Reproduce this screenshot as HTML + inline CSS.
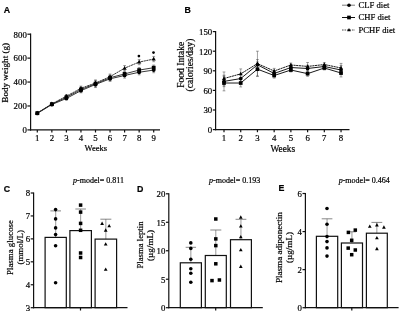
<!DOCTYPE html>
<html><head><meta charset="utf-8"><style>
html,body{margin:0;padding:0;background:#fff;width:400px;height:313px;overflow:hidden}
svg{display:block}
#w{width:400px;height:313px;will-change:transform}
</style></head><body>
<div id="w"><svg width="400" height="313" viewBox="0 0 400 313">
<rect width="400" height="313" fill="#fff"/>
<text x="6.90" y="10.00" font-size="8.8" text-anchor="middle" font-family='"Liberation Sans", sans-serif' font-weight="bold" dominant-baseline="central" stroke="#000" stroke-width="0.2">A</text>
<line x1="30.60" y1="33.60" x2="30.60" y2="130.50" stroke="#111" stroke-width="1.2"/>
<line x1="30.00" y1="129.90" x2="160.00" y2="129.90" stroke="#111" stroke-width="1.2"/>
<line x1="27.40" y1="129.90" x2="30.60" y2="129.90" stroke="#111" stroke-width="1.2"/>
<text x="26.80" y="130.20" font-size="8.8" text-anchor="end" font-family='"Liberation Serif", serif' font-weight="normal" dominant-baseline="central" stroke="#000" stroke-width="0.2">0</text>
<line x1="27.40" y1="105.98" x2="30.60" y2="105.98" stroke="#111" stroke-width="1.2"/>
<text x="26.80" y="106.28" font-size="8.8" text-anchor="end" font-family='"Liberation Serif", serif' font-weight="normal" dominant-baseline="central" stroke="#000" stroke-width="0.2">200</text>
<line x1="27.40" y1="82.05" x2="30.60" y2="82.05" stroke="#111" stroke-width="1.2"/>
<text x="26.80" y="82.35" font-size="8.8" text-anchor="end" font-family='"Liberation Serif", serif' font-weight="normal" dominant-baseline="central" stroke="#000" stroke-width="0.2">400</text>
<line x1="27.40" y1="58.12" x2="30.60" y2="58.12" stroke="#111" stroke-width="1.2"/>
<text x="26.80" y="58.42" font-size="8.8" text-anchor="end" font-family='"Liberation Serif", serif' font-weight="normal" dominant-baseline="central" stroke="#000" stroke-width="0.2">600</text>
<line x1="27.40" y1="34.20" x2="30.60" y2="34.20" stroke="#111" stroke-width="1.2"/>
<text x="26.80" y="34.50" font-size="8.8" text-anchor="end" font-family='"Liberation Serif", serif' font-weight="normal" dominant-baseline="central" stroke="#000" stroke-width="0.2">800</text>
<line x1="37.30" y1="129.90" x2="37.30" y2="132.50" stroke="#111" stroke-width="1.2"/>
<text x="37.30" y="138.40" font-size="8.8" text-anchor="middle" font-family='"Liberation Serif", serif' font-weight="normal" dominant-baseline="central" stroke="#000" stroke-width="0.2">1</text>
<line x1="51.85" y1="129.90" x2="51.85" y2="132.50" stroke="#111" stroke-width="1.2"/>
<text x="51.85" y="138.40" font-size="8.8" text-anchor="middle" font-family='"Liberation Serif", serif' font-weight="normal" dominant-baseline="central" stroke="#000" stroke-width="0.2">2</text>
<line x1="66.40" y1="129.90" x2="66.40" y2="132.50" stroke="#111" stroke-width="1.2"/>
<text x="66.40" y="138.40" font-size="8.8" text-anchor="middle" font-family='"Liberation Serif", serif' font-weight="normal" dominant-baseline="central" stroke="#000" stroke-width="0.2">3</text>
<line x1="80.95" y1="129.90" x2="80.95" y2="132.50" stroke="#111" stroke-width="1.2"/>
<text x="80.95" y="138.40" font-size="8.8" text-anchor="middle" font-family='"Liberation Serif", serif' font-weight="normal" dominant-baseline="central" stroke="#000" stroke-width="0.2">4</text>
<line x1="95.50" y1="129.90" x2="95.50" y2="132.50" stroke="#111" stroke-width="1.2"/>
<text x="95.50" y="138.40" font-size="8.8" text-anchor="middle" font-family='"Liberation Serif", serif' font-weight="normal" dominant-baseline="central" stroke="#000" stroke-width="0.2">5</text>
<line x1="110.05" y1="129.90" x2="110.05" y2="132.50" stroke="#111" stroke-width="1.2"/>
<text x="110.05" y="138.40" font-size="8.8" text-anchor="middle" font-family='"Liberation Serif", serif' font-weight="normal" dominant-baseline="central" stroke="#000" stroke-width="0.2">6</text>
<line x1="124.60" y1="129.90" x2="124.60" y2="132.50" stroke="#111" stroke-width="1.2"/>
<text x="124.60" y="138.40" font-size="8.8" text-anchor="middle" font-family='"Liberation Serif", serif' font-weight="normal" dominant-baseline="central" stroke="#000" stroke-width="0.2">7</text>
<line x1="139.15" y1="129.90" x2="139.15" y2="132.50" stroke="#111" stroke-width="1.2"/>
<text x="139.15" y="138.40" font-size="8.8" text-anchor="middle" font-family='"Liberation Serif", serif' font-weight="normal" dominant-baseline="central" stroke="#000" stroke-width="0.2">8</text>
<line x1="153.70" y1="129.90" x2="153.70" y2="132.50" stroke="#111" stroke-width="1.2"/>
<text x="153.70" y="138.40" font-size="8.8" text-anchor="middle" font-family='"Liberation Serif", serif' font-weight="normal" dominant-baseline="central" stroke="#000" stroke-width="0.2">9</text>
<text x="95.80" y="148.20" font-size="8.5" text-anchor="middle" font-family='"Liberation Serif", serif' font-weight="normal" dominant-baseline="central" stroke="#000" stroke-width="0.2">Weeks</text>
<text x="5.20" y="72.80" font-size="9.15" text-anchor="middle" font-family='"Liberation Serif", serif' font-weight="normal" transform="rotate(-90 5.20 72.80)" dominant-baseline="central" stroke="#000" stroke-width="0.2">Body weight (g)</text>
<polyline points="37.30,113.39 51.85,104.54 66.40,98.44 80.95,90.66 95.50,84.44 110.05,78.82 124.60,75.47 139.15,72.24 153.70,70.09" fill="none" stroke="#222" stroke-width="0.9"/>
<polyline points="37.30,113.15 51.85,104.18 66.40,97.24 80.95,89.47 95.50,83.72 110.05,77.74 124.60,73.92 139.15,70.09 153.70,67.70" fill="none" stroke="#222" stroke-width="0.9"/>
<polyline points="37.30,113.03 51.85,103.82 66.40,96.17 80.95,88.27 95.50,83.01 110.05,76.67 124.60,68.17 139.15,62.07 153.70,59.08" fill="none" stroke="#222" stroke-width="0.9" stroke-dasharray="2.2,0.5"/>
<line x1="37.30" y1="114.35" x2="37.30" y2="112.43" stroke="#444" stroke-width="0.5"/>
<line x1="35.90" y1="112.43" x2="38.70" y2="112.43" stroke="#444" stroke-width="0.5"/>
<line x1="35.90" y1="114.35" x2="38.70" y2="114.35" stroke="#444" stroke-width="0.5"/>
<line x1="51.85" y1="105.74" x2="51.85" y2="103.34" stroke="#444" stroke-width="0.5"/>
<line x1="50.45" y1="103.34" x2="53.25" y2="103.34" stroke="#444" stroke-width="0.5"/>
<line x1="50.45" y1="105.74" x2="53.25" y2="105.74" stroke="#444" stroke-width="0.5"/>
<line x1="66.40" y1="100.11" x2="66.40" y2="96.76" stroke="#444" stroke-width="0.5"/>
<line x1="65.00" y1="96.76" x2="67.80" y2="96.76" stroke="#444" stroke-width="0.5"/>
<line x1="65.00" y1="100.11" x2="67.80" y2="100.11" stroke="#444" stroke-width="0.5"/>
<line x1="80.95" y1="92.82" x2="80.95" y2="88.51" stroke="#444" stroke-width="0.5"/>
<line x1="79.55" y1="88.51" x2="82.35" y2="88.51" stroke="#444" stroke-width="0.5"/>
<line x1="79.55" y1="92.82" x2="82.35" y2="92.82" stroke="#444" stroke-width="0.5"/>
<line x1="95.50" y1="87.55" x2="95.50" y2="81.33" stroke="#444" stroke-width="0.5"/>
<line x1="94.10" y1="81.33" x2="96.90" y2="81.33" stroke="#444" stroke-width="0.5"/>
<line x1="94.10" y1="87.55" x2="96.90" y2="87.55" stroke="#444" stroke-width="0.5"/>
<line x1="110.05" y1="81.45" x2="110.05" y2="76.19" stroke="#444" stroke-width="0.5"/>
<line x1="108.65" y1="76.19" x2="111.45" y2="76.19" stroke="#444" stroke-width="0.5"/>
<line x1="108.65" y1="81.45" x2="111.45" y2="81.45" stroke="#444" stroke-width="0.5"/>
<line x1="124.60" y1="78.10" x2="124.60" y2="72.84" stroke="#444" stroke-width="0.5"/>
<line x1="123.20" y1="72.84" x2="126.00" y2="72.84" stroke="#444" stroke-width="0.5"/>
<line x1="123.20" y1="78.10" x2="126.00" y2="78.10" stroke="#444" stroke-width="0.5"/>
<line x1="139.15" y1="74.87" x2="139.15" y2="69.61" stroke="#444" stroke-width="0.5"/>
<line x1="137.75" y1="69.61" x2="140.55" y2="69.61" stroke="#444" stroke-width="0.5"/>
<line x1="137.75" y1="74.87" x2="140.55" y2="74.87" stroke="#444" stroke-width="0.5"/>
<line x1="153.70" y1="72.72" x2="153.70" y2="67.46" stroke="#444" stroke-width="0.5"/>
<line x1="152.30" y1="67.46" x2="155.10" y2="67.46" stroke="#444" stroke-width="0.5"/>
<line x1="152.30" y1="72.72" x2="155.10" y2="72.72" stroke="#444" stroke-width="0.5"/>
<line x1="37.30" y1="114.11" x2="37.30" y2="112.20" stroke="#444" stroke-width="0.5"/>
<line x1="35.90" y1="112.20" x2="38.70" y2="112.20" stroke="#444" stroke-width="0.5"/>
<line x1="35.90" y1="114.11" x2="38.70" y2="114.11" stroke="#444" stroke-width="0.5"/>
<line x1="51.85" y1="105.38" x2="51.85" y2="102.98" stroke="#444" stroke-width="0.5"/>
<line x1="50.45" y1="102.98" x2="53.25" y2="102.98" stroke="#444" stroke-width="0.5"/>
<line x1="50.45" y1="105.38" x2="53.25" y2="105.38" stroke="#444" stroke-width="0.5"/>
<line x1="66.40" y1="98.92" x2="66.40" y2="95.57" stroke="#444" stroke-width="0.5"/>
<line x1="65.00" y1="95.57" x2="67.80" y2="95.57" stroke="#444" stroke-width="0.5"/>
<line x1="65.00" y1="98.92" x2="67.80" y2="98.92" stroke="#444" stroke-width="0.5"/>
<line x1="80.95" y1="91.62" x2="80.95" y2="87.31" stroke="#444" stroke-width="0.5"/>
<line x1="79.55" y1="87.31" x2="82.35" y2="87.31" stroke="#444" stroke-width="0.5"/>
<line x1="79.55" y1="91.62" x2="82.35" y2="91.62" stroke="#444" stroke-width="0.5"/>
<line x1="95.50" y1="86.84" x2="95.50" y2="80.61" stroke="#444" stroke-width="0.5"/>
<line x1="94.10" y1="80.61" x2="96.90" y2="80.61" stroke="#444" stroke-width="0.5"/>
<line x1="94.10" y1="86.84" x2="96.90" y2="86.84" stroke="#444" stroke-width="0.5"/>
<line x1="110.05" y1="80.38" x2="110.05" y2="75.11" stroke="#444" stroke-width="0.5"/>
<line x1="108.65" y1="75.11" x2="111.45" y2="75.11" stroke="#444" stroke-width="0.5"/>
<line x1="108.65" y1="80.38" x2="111.45" y2="80.38" stroke="#444" stroke-width="0.5"/>
<line x1="124.60" y1="76.55" x2="124.60" y2="71.28" stroke="#444" stroke-width="0.5"/>
<line x1="123.20" y1="71.28" x2="126.00" y2="71.28" stroke="#444" stroke-width="0.5"/>
<line x1="123.20" y1="76.55" x2="126.00" y2="76.55" stroke="#444" stroke-width="0.5"/>
<line x1="139.15" y1="72.72" x2="139.15" y2="67.46" stroke="#444" stroke-width="0.5"/>
<line x1="137.75" y1="67.46" x2="140.55" y2="67.46" stroke="#444" stroke-width="0.5"/>
<line x1="137.75" y1="72.72" x2="140.55" y2="72.72" stroke="#444" stroke-width="0.5"/>
<line x1="153.70" y1="70.33" x2="153.70" y2="65.06" stroke="#444" stroke-width="0.5"/>
<line x1="152.30" y1="65.06" x2="155.10" y2="65.06" stroke="#444" stroke-width="0.5"/>
<line x1="152.30" y1="70.33" x2="155.10" y2="70.33" stroke="#444" stroke-width="0.5"/>
<line x1="37.30" y1="113.99" x2="37.30" y2="112.08" stroke="#444" stroke-width="0.5"/>
<line x1="35.90" y1="112.08" x2="38.70" y2="112.08" stroke="#444" stroke-width="0.5"/>
<line x1="35.90" y1="113.99" x2="38.70" y2="113.99" stroke="#444" stroke-width="0.5"/>
<line x1="51.85" y1="105.02" x2="51.85" y2="102.63" stroke="#444" stroke-width="0.5"/>
<line x1="50.45" y1="102.63" x2="53.25" y2="102.63" stroke="#444" stroke-width="0.5"/>
<line x1="50.45" y1="105.02" x2="53.25" y2="105.02" stroke="#444" stroke-width="0.5"/>
<line x1="66.40" y1="97.84" x2="66.40" y2="94.49" stroke="#444" stroke-width="0.5"/>
<line x1="65.00" y1="94.49" x2="67.80" y2="94.49" stroke="#444" stroke-width="0.5"/>
<line x1="65.00" y1="97.84" x2="67.80" y2="97.84" stroke="#444" stroke-width="0.5"/>
<line x1="80.95" y1="90.42" x2="80.95" y2="86.12" stroke="#444" stroke-width="0.5"/>
<line x1="79.55" y1="86.12" x2="82.35" y2="86.12" stroke="#444" stroke-width="0.5"/>
<line x1="79.55" y1="90.42" x2="82.35" y2="90.42" stroke="#444" stroke-width="0.5"/>
<line x1="95.50" y1="86.12" x2="95.50" y2="79.90" stroke="#444" stroke-width="0.5"/>
<line x1="94.10" y1="79.90" x2="96.90" y2="79.90" stroke="#444" stroke-width="0.5"/>
<line x1="94.10" y1="86.12" x2="96.90" y2="86.12" stroke="#444" stroke-width="0.5"/>
<line x1="110.05" y1="79.30" x2="110.05" y2="74.04" stroke="#444" stroke-width="0.5"/>
<line x1="108.65" y1="74.04" x2="111.45" y2="74.04" stroke="#444" stroke-width="0.5"/>
<line x1="108.65" y1="79.30" x2="111.45" y2="79.30" stroke="#444" stroke-width="0.5"/>
<line x1="124.60" y1="70.81" x2="124.60" y2="65.54" stroke="#444" stroke-width="0.5"/>
<line x1="123.20" y1="65.54" x2="126.00" y2="65.54" stroke="#444" stroke-width="0.5"/>
<line x1="123.20" y1="70.81" x2="126.00" y2="70.81" stroke="#444" stroke-width="0.5"/>
<line x1="139.15" y1="64.70" x2="139.15" y2="59.44" stroke="#444" stroke-width="0.5"/>
<line x1="137.75" y1="59.44" x2="140.55" y2="59.44" stroke="#444" stroke-width="0.5"/>
<line x1="137.75" y1="64.70" x2="140.55" y2="64.70" stroke="#444" stroke-width="0.5"/>
<line x1="153.70" y1="61.71" x2="153.70" y2="56.45" stroke="#444" stroke-width="0.5"/>
<line x1="152.30" y1="56.45" x2="155.10" y2="56.45" stroke="#444" stroke-width="0.5"/>
<line x1="152.30" y1="61.71" x2="155.10" y2="61.71" stroke="#444" stroke-width="0.5"/>
<circle cx="37.30" cy="113.39" r="1.9" fill="#000"/>
<circle cx="51.85" cy="104.54" r="1.9" fill="#000"/>
<circle cx="66.40" cy="98.44" r="1.9" fill="#000"/>
<circle cx="80.95" cy="90.66" r="1.9" fill="#000"/>
<circle cx="95.50" cy="84.44" r="1.9" fill="#000"/>
<circle cx="110.05" cy="78.82" r="1.9" fill="#000"/>
<circle cx="124.60" cy="75.47" r="1.9" fill="#000"/>
<circle cx="139.15" cy="72.24" r="1.9" fill="#000"/>
<circle cx="153.70" cy="70.09" r="1.9" fill="#000"/>
<rect x="35.40" y="111.25" width="3.8" height="3.8" fill="#000"/>
<rect x="49.95" y="102.28" width="3.8" height="3.8" fill="#000"/>
<rect x="64.50" y="95.34" width="3.8" height="3.8" fill="#000"/>
<rect x="79.05" y="87.57" width="3.8" height="3.8" fill="#000"/>
<rect x="93.60" y="81.82" width="3.8" height="3.8" fill="#000"/>
<rect x="108.15" y="75.84" width="3.8" height="3.8" fill="#000"/>
<rect x="122.70" y="72.02" width="3.8" height="3.8" fill="#000"/>
<rect x="137.25" y="68.19" width="3.8" height="3.8" fill="#000"/>
<rect x="151.80" y="65.80" width="3.8" height="3.8" fill="#000"/>
<polygon points="37.30,110.76 35.20,114.54 39.40,114.54" fill="#000"/>
<polygon points="51.85,101.55 49.75,105.33 53.95,105.33" fill="#000"/>
<polygon points="66.40,93.90 64.30,97.68 68.50,97.68" fill="#000"/>
<polygon points="80.95,86.00 78.85,89.78 83.05,89.78" fill="#000"/>
<polygon points="95.50,80.74 93.40,84.52 97.60,84.52" fill="#000"/>
<polygon points="110.05,74.40 107.95,78.18 112.15,78.18" fill="#000"/>
<polygon points="124.60,65.91 122.50,69.69 126.70,69.69" fill="#000"/>
<polygon points="139.15,59.80 137.05,63.58 141.25,63.58" fill="#000"/>
<polygon points="153.70,56.81 151.60,60.59 155.80,60.59" fill="#000"/>
<circle cx="138.90" cy="56.10" r="1.35" fill="#000"/>
<circle cx="153.50" cy="52.60" r="1.35" fill="#000"/>
<text x="187.60" y="9.60" font-size="8.8" text-anchor="middle" font-family='"Liberation Sans", sans-serif' font-weight="bold" dominant-baseline="central" stroke="#000" stroke-width="0.2">B</text>
<line x1="215.60" y1="31.00" x2="215.60" y2="130.20" stroke="#111" stroke-width="1.2"/>
<line x1="215.00" y1="129.60" x2="349.50" y2="129.60" stroke="#111" stroke-width="1.2"/>
<line x1="212.80" y1="129.60" x2="215.60" y2="129.60" stroke="#111" stroke-width="1.2"/>
<text x="212.20" y="129.90" font-size="8.8" text-anchor="end" font-family='"Liberation Serif", serif' font-weight="normal" dominant-baseline="central" stroke="#000" stroke-width="0.2">0</text>
<line x1="212.80" y1="110.00" x2="215.60" y2="110.00" stroke="#111" stroke-width="1.2"/>
<text x="212.20" y="110.30" font-size="8.8" text-anchor="end" font-family='"Liberation Serif", serif' font-weight="normal" dominant-baseline="central" stroke="#000" stroke-width="0.2">30</text>
<line x1="212.80" y1="90.40" x2="215.60" y2="90.40" stroke="#111" stroke-width="1.2"/>
<text x="212.20" y="90.70" font-size="8.8" text-anchor="end" font-family='"Liberation Serif", serif' font-weight="normal" dominant-baseline="central" stroke="#000" stroke-width="0.2">60</text>
<line x1="212.80" y1="70.80" x2="215.60" y2="70.80" stroke="#111" stroke-width="1.2"/>
<text x="212.20" y="71.10" font-size="8.8" text-anchor="end" font-family='"Liberation Serif", serif' font-weight="normal" dominant-baseline="central" stroke="#000" stroke-width="0.2">90</text>
<line x1="212.80" y1="51.20" x2="215.60" y2="51.20" stroke="#111" stroke-width="1.2"/>
<text x="212.20" y="51.50" font-size="8.8" text-anchor="end" font-family='"Liberation Serif", serif' font-weight="normal" dominant-baseline="central" stroke="#000" stroke-width="0.2">120</text>
<line x1="212.80" y1="31.60" x2="215.60" y2="31.60" stroke="#111" stroke-width="1.2"/>
<text x="212.20" y="31.90" font-size="8.8" text-anchor="end" font-family='"Liberation Serif", serif' font-weight="normal" dominant-baseline="central" stroke="#000" stroke-width="0.2">150</text>
<line x1="224.00" y1="129.60" x2="224.00" y2="132.20" stroke="#111" stroke-width="1.2"/>
<text x="224.00" y="138.00" font-size="8.8" text-anchor="middle" font-family='"Liberation Serif", serif' font-weight="normal" dominant-baseline="central" stroke="#000" stroke-width="0.2">1</text>
<line x1="240.72" y1="129.60" x2="240.72" y2="132.20" stroke="#111" stroke-width="1.2"/>
<text x="240.72" y="138.00" font-size="8.8" text-anchor="middle" font-family='"Liberation Serif", serif' font-weight="normal" dominant-baseline="central" stroke="#000" stroke-width="0.2">2</text>
<line x1="257.44" y1="129.60" x2="257.44" y2="132.20" stroke="#111" stroke-width="1.2"/>
<text x="257.44" y="138.00" font-size="8.8" text-anchor="middle" font-family='"Liberation Serif", serif' font-weight="normal" dominant-baseline="central" stroke="#000" stroke-width="0.2">3</text>
<line x1="274.16" y1="129.60" x2="274.16" y2="132.20" stroke="#111" stroke-width="1.2"/>
<text x="274.16" y="138.00" font-size="8.8" text-anchor="middle" font-family='"Liberation Serif", serif' font-weight="normal" dominant-baseline="central" stroke="#000" stroke-width="0.2">4</text>
<line x1="290.88" y1="129.60" x2="290.88" y2="132.20" stroke="#111" stroke-width="1.2"/>
<text x="290.88" y="138.00" font-size="8.8" text-anchor="middle" font-family='"Liberation Serif", serif' font-weight="normal" dominant-baseline="central" stroke="#000" stroke-width="0.2">5</text>
<line x1="307.60" y1="129.60" x2="307.60" y2="132.20" stroke="#111" stroke-width="1.2"/>
<text x="307.60" y="138.00" font-size="8.8" text-anchor="middle" font-family='"Liberation Serif", serif' font-weight="normal" dominant-baseline="central" stroke="#000" stroke-width="0.2">6</text>
<line x1="324.32" y1="129.60" x2="324.32" y2="132.20" stroke="#111" stroke-width="1.2"/>
<text x="324.32" y="138.00" font-size="8.8" text-anchor="middle" font-family='"Liberation Serif", serif' font-weight="normal" dominant-baseline="central" stroke="#000" stroke-width="0.2">7</text>
<line x1="341.04" y1="129.60" x2="341.04" y2="132.20" stroke="#111" stroke-width="1.2"/>
<text x="341.04" y="138.00" font-size="8.8" text-anchor="middle" font-family='"Liberation Serif", serif' font-weight="normal" dominant-baseline="central" stroke="#000" stroke-width="0.2">8</text>
<text x="282.80" y="148.70" font-size="9.3" text-anchor="middle" font-family='"Liberation Serif", serif' font-weight="normal" dominant-baseline="central" stroke="#000" stroke-width="0.2">Weeks</text>
<text x="181.00" y="64.80" font-size="9.6" text-anchor="middle" font-family='"Liberation Serif", serif' font-weight="normal" transform="rotate(-90 181.00 64.80)" dominant-baseline="central" stroke="#000" stroke-width="0.2">Food Intake</text>
<text x="189.80" y="65.00" font-size="9.6" text-anchor="middle" font-family='"Liberation Serif", serif' font-weight="normal" transform="rotate(-90 189.80 65.00)" dominant-baseline="central" stroke="#000" stroke-width="0.2">(calories/day)</text>
<polyline points="224.00,81.38 240.72,78.57 257.44,64.79 274.16,73.48 290.88,67.53 307.60,68.51 324.32,66.49 341.04,70.02" fill="none" stroke="#000" stroke-width="0.9"/>
<polyline points="224.00,83.02 240.72,83.02 257.44,69.17 274.16,75.50 290.88,70.02 307.60,73.67 324.32,67.99 341.04,73.02" fill="none" stroke="#000" stroke-width="0.9"/>
<polyline points="224.00,78.51 240.72,73.87 257.44,63.61 274.16,71.00 290.88,64.99 307.60,66.42 324.32,64.53 341.04,67.99" fill="none" stroke="#000" stroke-width="0.9" stroke-dasharray="2.2,0.5"/>
<line x1="224.00" y1="86.61" x2="224.00" y2="76.16" stroke="#444" stroke-width="0.5"/>
<line x1="222.60" y1="76.16" x2="225.40" y2="76.16" stroke="#444" stroke-width="0.5"/>
<line x1="222.60" y1="86.61" x2="225.40" y2="86.61" stroke="#444" stroke-width="0.5"/>
<line x1="240.72" y1="82.49" x2="240.72" y2="74.65" stroke="#444" stroke-width="0.5"/>
<line x1="239.32" y1="74.65" x2="242.12" y2="74.65" stroke="#444" stroke-width="0.5"/>
<line x1="239.32" y1="82.49" x2="242.12" y2="82.49" stroke="#444" stroke-width="0.5"/>
<line x1="257.44" y1="70.02" x2="257.44" y2="59.56" stroke="#444" stroke-width="0.5"/>
<line x1="256.04" y1="59.56" x2="258.84" y2="59.56" stroke="#444" stroke-width="0.5"/>
<line x1="256.04" y1="70.02" x2="258.84" y2="70.02" stroke="#444" stroke-width="0.5"/>
<line x1="274.16" y1="76.09" x2="274.16" y2="70.87" stroke="#444" stroke-width="0.5"/>
<line x1="272.76" y1="70.87" x2="275.56" y2="70.87" stroke="#444" stroke-width="0.5"/>
<line x1="272.76" y1="76.09" x2="275.56" y2="76.09" stroke="#444" stroke-width="0.5"/>
<line x1="290.88" y1="69.49" x2="290.88" y2="65.57" stroke="#444" stroke-width="0.5"/>
<line x1="289.48" y1="65.57" x2="292.28" y2="65.57" stroke="#444" stroke-width="0.5"/>
<line x1="289.48" y1="69.49" x2="292.28" y2="69.49" stroke="#444" stroke-width="0.5"/>
<line x1="307.60" y1="71.78" x2="307.60" y2="65.25" stroke="#444" stroke-width="0.5"/>
<line x1="306.20" y1="65.25" x2="309.00" y2="65.25" stroke="#444" stroke-width="0.5"/>
<line x1="306.20" y1="71.78" x2="309.00" y2="71.78" stroke="#444" stroke-width="0.5"/>
<line x1="324.32" y1="68.45" x2="324.32" y2="64.53" stroke="#444" stroke-width="0.5"/>
<line x1="322.92" y1="64.53" x2="325.72" y2="64.53" stroke="#444" stroke-width="0.5"/>
<line x1="322.92" y1="68.45" x2="325.72" y2="68.45" stroke="#444" stroke-width="0.5"/>
<line x1="341.04" y1="74.59" x2="341.04" y2="65.44" stroke="#444" stroke-width="0.5"/>
<line x1="339.64" y1="65.44" x2="342.44" y2="65.44" stroke="#444" stroke-width="0.5"/>
<line x1="339.64" y1="74.59" x2="342.44" y2="74.59" stroke="#444" stroke-width="0.5"/>
<line x1="224.00" y1="90.86" x2="224.00" y2="75.18" stroke="#444" stroke-width="0.5"/>
<line x1="222.60" y1="75.18" x2="225.40" y2="75.18" stroke="#444" stroke-width="0.5"/>
<line x1="222.60" y1="90.86" x2="225.40" y2="90.86" stroke="#444" stroke-width="0.5"/>
<line x1="240.72" y1="86.94" x2="240.72" y2="79.10" stroke="#444" stroke-width="0.5"/>
<line x1="239.32" y1="79.10" x2="242.12" y2="79.10" stroke="#444" stroke-width="0.5"/>
<line x1="239.32" y1="86.94" x2="242.12" y2="86.94" stroke="#444" stroke-width="0.5"/>
<line x1="257.44" y1="76.35" x2="257.44" y2="61.98" stroke="#444" stroke-width="0.5"/>
<line x1="256.04" y1="61.98" x2="258.84" y2="61.98" stroke="#444" stroke-width="0.5"/>
<line x1="256.04" y1="76.35" x2="258.84" y2="76.35" stroke="#444" stroke-width="0.5"/>
<line x1="274.16" y1="78.12" x2="274.16" y2="72.89" stroke="#444" stroke-width="0.5"/>
<line x1="272.76" y1="72.89" x2="275.56" y2="72.89" stroke="#444" stroke-width="0.5"/>
<line x1="272.76" y1="78.12" x2="275.56" y2="78.12" stroke="#444" stroke-width="0.5"/>
<line x1="290.88" y1="71.98" x2="290.88" y2="68.06" stroke="#444" stroke-width="0.5"/>
<line x1="289.48" y1="68.06" x2="292.28" y2="68.06" stroke="#444" stroke-width="0.5"/>
<line x1="289.48" y1="71.98" x2="292.28" y2="71.98" stroke="#444" stroke-width="0.5"/>
<line x1="307.60" y1="76.29" x2="307.60" y2="71.06" stroke="#444" stroke-width="0.5"/>
<line x1="306.20" y1="71.06" x2="309.00" y2="71.06" stroke="#444" stroke-width="0.5"/>
<line x1="306.20" y1="76.29" x2="309.00" y2="76.29" stroke="#444" stroke-width="0.5"/>
<line x1="324.32" y1="69.95" x2="324.32" y2="66.03" stroke="#444" stroke-width="0.5"/>
<line x1="322.92" y1="66.03" x2="325.72" y2="66.03" stroke="#444" stroke-width="0.5"/>
<line x1="322.92" y1="69.95" x2="325.72" y2="69.95" stroke="#444" stroke-width="0.5"/>
<line x1="341.04" y1="76.94" x2="341.04" y2="69.10" stroke="#444" stroke-width="0.5"/>
<line x1="339.64" y1="69.10" x2="342.44" y2="69.10" stroke="#444" stroke-width="0.5"/>
<line x1="339.64" y1="76.94" x2="342.44" y2="76.94" stroke="#444" stroke-width="0.5"/>
<line x1="224.00" y1="85.04" x2="224.00" y2="71.98" stroke="#444" stroke-width="0.5"/>
<line x1="222.60" y1="71.98" x2="225.40" y2="71.98" stroke="#444" stroke-width="0.5"/>
<line x1="222.60" y1="85.04" x2="225.40" y2="85.04" stroke="#444" stroke-width="0.5"/>
<line x1="240.72" y1="78.84" x2="240.72" y2="68.91" stroke="#444" stroke-width="0.5"/>
<line x1="239.32" y1="68.91" x2="242.12" y2="68.91" stroke="#444" stroke-width="0.5"/>
<line x1="239.32" y1="78.84" x2="242.12" y2="78.84" stroke="#444" stroke-width="0.5"/>
<line x1="257.44" y1="76.03" x2="257.44" y2="51.20" stroke="#444" stroke-width="0.5"/>
<line x1="256.04" y1="51.20" x2="258.84" y2="51.20" stroke="#444" stroke-width="0.5"/>
<line x1="256.04" y1="76.03" x2="258.84" y2="76.03" stroke="#444" stroke-width="0.5"/>
<line x1="274.16" y1="73.61" x2="274.16" y2="68.38" stroke="#444" stroke-width="0.5"/>
<line x1="272.76" y1="68.38" x2="275.56" y2="68.38" stroke="#444" stroke-width="0.5"/>
<line x1="272.76" y1="73.61" x2="275.56" y2="73.61" stroke="#444" stroke-width="0.5"/>
<line x1="290.88" y1="66.95" x2="290.88" y2="63.03" stroke="#444" stroke-width="0.5"/>
<line x1="289.48" y1="63.03" x2="292.28" y2="63.03" stroke="#444" stroke-width="0.5"/>
<line x1="289.48" y1="66.95" x2="292.28" y2="66.95" stroke="#444" stroke-width="0.5"/>
<line x1="307.60" y1="70.34" x2="307.60" y2="62.50" stroke="#444" stroke-width="0.5"/>
<line x1="306.20" y1="62.50" x2="309.00" y2="62.50" stroke="#444" stroke-width="0.5"/>
<line x1="306.20" y1="70.34" x2="309.00" y2="70.34" stroke="#444" stroke-width="0.5"/>
<line x1="324.32" y1="66.49" x2="324.32" y2="62.57" stroke="#444" stroke-width="0.5"/>
<line x1="322.92" y1="62.57" x2="325.72" y2="62.57" stroke="#444" stroke-width="0.5"/>
<line x1="322.92" y1="66.49" x2="325.72" y2="66.49" stroke="#444" stroke-width="0.5"/>
<line x1="341.04" y1="72.56" x2="341.04" y2="63.42" stroke="#444" stroke-width="0.5"/>
<line x1="339.64" y1="63.42" x2="342.44" y2="63.42" stroke="#444" stroke-width="0.5"/>
<line x1="339.64" y1="72.56" x2="342.44" y2="72.56" stroke="#444" stroke-width="0.5"/>
<circle cx="224.00" cy="81.38" r="1.85" fill="#000"/>
<circle cx="240.72" cy="78.57" r="1.85" fill="#000"/>
<circle cx="257.44" cy="64.79" r="1.85" fill="#000"/>
<circle cx="274.16" cy="73.48" r="1.85" fill="#000"/>
<circle cx="290.88" cy="67.53" r="1.85" fill="#000"/>
<circle cx="307.60" cy="68.51" r="1.85" fill="#000"/>
<circle cx="324.32" cy="66.49" r="1.85" fill="#000"/>
<circle cx="341.04" cy="70.02" r="1.85" fill="#000"/>
<rect x="222.15" y="81.17" width="3.7" height="3.7" fill="#000"/>
<rect x="238.87" y="81.17" width="3.7" height="3.7" fill="#000"/>
<rect x="255.59" y="67.32" width="3.7" height="3.7" fill="#000"/>
<rect x="272.31" y="73.65" width="3.7" height="3.7" fill="#000"/>
<rect x="289.03" y="68.17" width="3.7" height="3.7" fill="#000"/>
<rect x="305.75" y="71.82" width="3.7" height="3.7" fill="#000"/>
<rect x="322.47" y="66.14" width="3.7" height="3.7" fill="#000"/>
<rect x="339.19" y="71.17" width="3.7" height="3.7" fill="#000"/>
<polygon points="224.00,76.35 222.00,79.95 226.00,79.95" fill="#000"/>
<polygon points="240.72,71.71 238.72,75.31 242.72,75.31" fill="#000"/>
<polygon points="257.44,61.45 255.44,65.05 259.44,65.05" fill="#000"/>
<polygon points="274.16,68.84 272.16,72.44 276.16,72.44" fill="#000"/>
<polygon points="290.88,62.83 288.88,66.43 292.88,66.43" fill="#000"/>
<polygon points="307.60,64.26 305.60,67.86 309.60,67.86" fill="#000"/>
<polygon points="324.32,62.37 322.32,65.97 326.32,65.97" fill="#000"/>
<polygon points="341.04,65.83 339.04,69.43 343.04,69.43" fill="#000"/>
<line x1="342.00" y1="5.20" x2="355.00" y2="5.20" stroke="#444" stroke-width="0.7"/>
<circle cx="349.00" cy="5.20" r="1.8" fill="#000"/>
<text x="358.60" y="5.40" font-size="8.6" text-anchor="start" font-family='"Liberation Serif", serif' font-weight="normal" dominant-baseline="central" stroke="#000" stroke-width="0.2">CLF diet</text>
<line x1="342.00" y1="17.50" x2="355.00" y2="17.50" stroke="#111" stroke-width="1.0"/>
<rect x="347.15" y="15.65" width="3.7" height="3.7" fill="#000"/>
<text x="358.60" y="17.40" font-size="8.6" text-anchor="start" font-family='"Liberation Serif", serif' font-weight="normal" dominant-baseline="central" stroke="#000" stroke-width="0.2">CHF diet</text>
<line x1="342.00" y1="30.00" x2="355.00" y2="30.00" stroke="#222" stroke-width="0.8" stroke-dasharray="1.6,0.9"/>
<polygon points="349.00,27.95 347.10,31.37 350.90,31.37" fill="#000"/>
<text x="358.60" y="29.90" font-size="8.6" text-anchor="start" font-family='"Liberation Serif", serif' font-weight="normal" dominant-baseline="central" stroke="#000" stroke-width="0.2">PCHF diet</text>
<text x="7.00" y="188.50" font-size="8.8" text-anchor="middle" font-family='"Liberation Sans", sans-serif' font-weight="bold" dominant-baseline="central" stroke="#000" stroke-width="0.2">C</text>
<text x="73" y="180.2" font-size="8" font-family='"Liberation Serif", serif' dominant-baseline="central" stroke="#000" stroke-width="0.2"><tspan font-style="italic">p</tspan>-model= 0.811</text>
<line x1="33.60" y1="192.40" x2="33.60" y2="308.30" stroke="#111" stroke-width="1.2"/>
<line x1="33.00" y1="307.70" x2="127.50" y2="307.70" stroke="#111" stroke-width="1.2"/>
<line x1="30.70" y1="307.70" x2="33.60" y2="307.70" stroke="#111" stroke-width="1.2"/>
<text x="30.20" y="308.00" font-size="8.8" text-anchor="end" font-family='"Liberation Serif", serif' font-weight="normal" dominant-baseline="central" stroke="#000" stroke-width="0.2">3</text>
<line x1="30.70" y1="284.76" x2="33.60" y2="284.76" stroke="#111" stroke-width="1.2"/>
<text x="30.20" y="285.06" font-size="8.8" text-anchor="end" font-family='"Liberation Serif", serif' font-weight="normal" dominant-baseline="central" stroke="#000" stroke-width="0.2">4</text>
<line x1="30.70" y1="261.82" x2="33.60" y2="261.82" stroke="#111" stroke-width="1.2"/>
<text x="30.20" y="262.12" font-size="8.8" text-anchor="end" font-family='"Liberation Serif", serif' font-weight="normal" dominant-baseline="central" stroke="#000" stroke-width="0.2">5</text>
<line x1="30.70" y1="238.88" x2="33.60" y2="238.88" stroke="#111" stroke-width="1.2"/>
<text x="30.20" y="239.18" font-size="8.8" text-anchor="end" font-family='"Liberation Serif", serif' font-weight="normal" dominant-baseline="central" stroke="#000" stroke-width="0.2">6</text>
<line x1="30.70" y1="215.94" x2="33.60" y2="215.94" stroke="#111" stroke-width="1.2"/>
<text x="30.20" y="216.24" font-size="8.8" text-anchor="end" font-family='"Liberation Serif", serif' font-weight="normal" dominant-baseline="central" stroke="#000" stroke-width="0.2">7</text>
<line x1="30.70" y1="193.00" x2="33.60" y2="193.00" stroke="#111" stroke-width="1.2"/>
<text x="30.20" y="193.30" font-size="8.8" text-anchor="end" font-family='"Liberation Serif", serif' font-weight="normal" dominant-baseline="central" stroke="#000" stroke-width="0.2">8</text>
<line x1="55.70" y1="237.40" x2="55.70" y2="210.90" stroke="#555" stroke-width="0.6"/>
<line x1="50.40" y1="210.90" x2="61.00" y2="210.90" stroke="#555" stroke-width="0.7"/>
<rect x="45.10" y="237.40" width="21.20" height="70.30" fill="none" stroke="#111" stroke-width="1.2"/>
<line x1="80.65" y1="230.60" x2="80.65" y2="209.00" stroke="#555" stroke-width="0.6"/>
<line x1="75.35" y1="209.00" x2="85.95" y2="209.00" stroke="#555" stroke-width="0.7"/>
<rect x="69.90" y="230.60" width="21.50" height="77.10" fill="none" stroke="#111" stroke-width="1.2"/>
<line x1="105.85" y1="239.10" x2="105.85" y2="219.20" stroke="#555" stroke-width="0.6"/>
<line x1="100.35" y1="219.20" x2="111.35" y2="219.20" stroke="#555" stroke-width="0.7"/>
<rect x="95.10" y="239.10" width="21.50" height="68.60" fill="none" stroke="#111" stroke-width="1.2"/>
<line x1="80.50" y1="307.70" x2="80.50" y2="310.50" stroke="#111" stroke-width="1.2"/>
<circle cx="55.60" cy="209.60" r="1.8" fill="#000"/>
<circle cx="55.60" cy="218.90" r="1.8" fill="#000"/>
<circle cx="55.60" cy="227.90" r="1.8" fill="#000"/>
<circle cx="55.60" cy="234.60" r="1.8" fill="#000"/>
<circle cx="55.60" cy="245.80" r="1.8" fill="#000"/>
<circle cx="55.60" cy="282.70" r="1.8" fill="#000"/>
<rect x="78.85" y="203.35" width="3.5" height="3.5" fill="#000"/>
<rect x="78.85" y="210.35" width="3.5" height="3.5" fill="#000"/>
<rect x="78.85" y="221.65" width="3.5" height="3.5" fill="#000"/>
<rect x="78.85" y="228.55" width="3.5" height="3.5" fill="#000"/>
<rect x="78.85" y="251.25" width="3.5" height="3.5" fill="#000"/>
<rect x="78.85" y="255.75" width="3.5" height="3.5" fill="#000"/>
<polygon points="102.10,221.56 100.25,224.96 103.95,224.96" fill="#000"/>
<polygon points="109.20,223.96 107.35,227.36 111.05,227.36" fill="#000"/>
<polygon points="105.70,228.36 103.85,231.76 107.55,231.76" fill="#000"/>
<polygon points="105.70,242.16 103.85,245.56 107.55,245.56" fill="#000"/>
<polygon points="105.70,267.46 103.85,270.86 107.55,270.86" fill="#000"/>
<text x="10.00" y="247.50" font-size="8.9" text-anchor="middle" font-family='"Liberation Serif", serif' font-weight="normal" transform="rotate(-90 10.00 247.50)" dominant-baseline="central" stroke="#000" stroke-width="0.2">Plasma glucose</text>
<text x="19.80" y="247.30" font-size="8.9" text-anchor="middle" font-family='"Liberation Serif", serif' font-weight="normal" transform="rotate(-90 19.80 247.30)" dominant-baseline="central" stroke="#000" stroke-width="0.2">(mmol/L)</text>
<text x="140.30" y="188.50" font-size="8.8" text-anchor="middle" font-family='"Liberation Sans", sans-serif' font-weight="bold" dominant-baseline="central" stroke="#000" stroke-width="0.2">D</text>
<text x="209" y="180.2" font-size="8" font-family='"Liberation Serif", serif' dominant-baseline="central" stroke="#000" stroke-width="0.2"><tspan font-style="italic">p</tspan>-model= 0.193</text>
<line x1="168.80" y1="193.20" x2="168.80" y2="308.30" stroke="#111" stroke-width="1.2"/>
<line x1="168.20" y1="307.70" x2="262.80" y2="307.70" stroke="#111" stroke-width="1.2"/>
<line x1="165.90" y1="307.70" x2="168.80" y2="307.70" stroke="#111" stroke-width="1.2"/>
<text x="165.40" y="308.00" font-size="8.8" text-anchor="end" font-family='"Liberation Serif", serif' font-weight="normal" dominant-baseline="central" stroke="#000" stroke-width="0.2">0</text>
<line x1="165.90" y1="279.23" x2="168.80" y2="279.23" stroke="#111" stroke-width="1.2"/>
<text x="165.40" y="279.53" font-size="8.8" text-anchor="end" font-family='"Liberation Serif", serif' font-weight="normal" dominant-baseline="central" stroke="#000" stroke-width="0.2">5</text>
<line x1="165.90" y1="250.75" x2="168.80" y2="250.75" stroke="#111" stroke-width="1.2"/>
<text x="165.40" y="251.05" font-size="8.8" text-anchor="end" font-family='"Liberation Serif", serif' font-weight="normal" dominant-baseline="central" stroke="#000" stroke-width="0.2">10</text>
<line x1="165.90" y1="222.28" x2="168.80" y2="222.28" stroke="#111" stroke-width="1.2"/>
<text x="165.40" y="222.58" font-size="8.8" text-anchor="end" font-family='"Liberation Serif", serif' font-weight="normal" dominant-baseline="central" stroke="#000" stroke-width="0.2">15</text>
<line x1="165.90" y1="193.80" x2="168.80" y2="193.80" stroke="#111" stroke-width="1.2"/>
<text x="165.40" y="194.10" font-size="8.8" text-anchor="end" font-family='"Liberation Serif", serif' font-weight="normal" dominant-baseline="central" stroke="#000" stroke-width="0.2">20</text>
<line x1="190.85" y1="262.80" x2="190.85" y2="247.30" stroke="#555" stroke-width="0.6"/>
<line x1="185.65" y1="247.30" x2="196.05" y2="247.30" stroke="#555" stroke-width="0.7"/>
<rect x="180.30" y="262.80" width="21.10" height="44.90" fill="none" stroke="#111" stroke-width="1.2"/>
<line x1="215.80" y1="255.50" x2="215.80" y2="230.00" stroke="#555" stroke-width="0.6"/>
<line x1="210.30" y1="230.00" x2="221.30" y2="230.00" stroke="#555" stroke-width="0.7"/>
<rect x="205.30" y="255.50" width="21.00" height="52.20" fill="none" stroke="#111" stroke-width="1.2"/>
<line x1="240.95" y1="239.70" x2="240.95" y2="219.30" stroke="#555" stroke-width="0.6"/>
<line x1="235.55" y1="219.30" x2="246.35" y2="219.30" stroke="#555" stroke-width="0.7"/>
<rect x="230.50" y="239.70" width="20.90" height="68.00" fill="none" stroke="#111" stroke-width="1.2"/>
<line x1="215.70" y1="307.70" x2="215.70" y2="310.50" stroke="#111" stroke-width="1.2"/>
<circle cx="190.80" cy="242.90" r="1.8" fill="#000"/>
<circle cx="190.80" cy="248.40" r="1.8" fill="#000"/>
<circle cx="190.80" cy="259.30" r="1.8" fill="#000"/>
<circle cx="190.80" cy="268.80" r="1.8" fill="#000"/>
<circle cx="190.80" cy="273.20" r="1.8" fill="#000"/>
<circle cx="190.80" cy="282.20" r="1.8" fill="#000"/>
<rect x="214.05" y="217.25" width="3.5" height="3.5" fill="#000"/>
<rect x="214.05" y="237.15" width="3.5" height="3.5" fill="#000"/>
<rect x="214.05" y="243.85" width="3.5" height="3.5" fill="#000"/>
<rect x="214.05" y="262.05" width="3.5" height="3.5" fill="#000"/>
<rect x="210.25" y="278.85" width="3.5" height="3.5" fill="#000"/>
<rect x="217.65" y="278.25" width="3.5" height="3.5" fill="#000"/>
<polygon points="240.80,215.26 238.95,218.66 242.65,218.66" fill="#000"/>
<polygon points="240.80,224.16 238.95,227.56 242.65,227.56" fill="#000"/>
<polygon points="240.80,234.96 238.95,238.36 242.65,238.36" fill="#000"/>
<polygon points="240.80,247.96 238.95,251.36 242.65,251.36" fill="#000"/>
<polygon points="240.80,264.56 238.95,267.96 242.65,267.96" fill="#000"/>
<text x="139.60" y="245.00" font-size="8.7" text-anchor="middle" font-family='"Liberation Serif", serif' font-weight="normal" transform="rotate(-90 139.60 245.00)" dominant-baseline="central" stroke="#000" stroke-width="0.2">Plasma leptin</text>
<text x="150.00" y="245.40" font-size="9.15" text-anchor="middle" font-family='"Liberation Serif", serif' font-weight="normal" transform="rotate(-90 150.00 245.40)" dominant-baseline="central" stroke="#000" stroke-width="0.2">(µg/mL)</text>
<text x="281.40" y="188.00" font-size="8.8" text-anchor="middle" font-family='"Liberation Sans", sans-serif' font-weight="bold" dominant-baseline="central" stroke="#000" stroke-width="0.2">E</text>
<text x="338.7" y="180.2" font-size="8" font-family='"Liberation Serif", serif' dominant-baseline="central" stroke="#000" stroke-width="0.2"><tspan font-style="italic">p</tspan>-model= 0.464</text>
<line x1="305.40" y1="192.90" x2="305.40" y2="308.30" stroke="#111" stroke-width="1.2"/>
<line x1="304.80" y1="307.70" x2="398.60" y2="307.70" stroke="#111" stroke-width="1.2"/>
<line x1="302.50" y1="307.70" x2="305.40" y2="307.70" stroke="#111" stroke-width="1.2"/>
<text x="302.00" y="308.00" font-size="8.8" text-anchor="end" font-family='"Liberation Serif", serif' font-weight="normal" dominant-baseline="central" stroke="#000" stroke-width="0.2">0</text>
<line x1="302.50" y1="269.63" x2="305.40" y2="269.63" stroke="#111" stroke-width="1.2"/>
<text x="302.00" y="269.93" font-size="8.8" text-anchor="end" font-family='"Liberation Serif", serif' font-weight="normal" dominant-baseline="central" stroke="#000" stroke-width="0.2">2</text>
<line x1="302.50" y1="231.57" x2="305.40" y2="231.57" stroke="#111" stroke-width="1.2"/>
<text x="302.00" y="231.87" font-size="8.8" text-anchor="end" font-family='"Liberation Serif", serif' font-weight="normal" dominant-baseline="central" stroke="#000" stroke-width="0.2">4</text>
<line x1="302.50" y1="193.50" x2="305.40" y2="193.50" stroke="#111" stroke-width="1.2"/>
<text x="302.00" y="193.80" font-size="8.8" text-anchor="end" font-family='"Liberation Serif", serif' font-weight="normal" dominant-baseline="central" stroke="#000" stroke-width="0.2">6</text>
<line x1="327.05" y1="236.30" x2="327.05" y2="218.80" stroke="#555" stroke-width="0.6"/>
<line x1="321.70" y1="218.80" x2="332.40" y2="218.80" stroke="#555" stroke-width="0.7"/>
<rect x="316.40" y="236.30" width="21.30" height="71.40" fill="none" stroke="#111" stroke-width="1.2"/>
<line x1="351.95" y1="243.00" x2="351.95" y2="231.80" stroke="#555" stroke-width="0.6"/>
<line x1="347.95" y1="231.80" x2="355.95" y2="231.80" stroke="#555" stroke-width="0.7"/>
<rect x="341.40" y="243.00" width="21.10" height="64.70" fill="none" stroke="#111" stroke-width="1.2"/>
<line x1="376.85" y1="233.20" x2="376.85" y2="222.40" stroke="#555" stroke-width="0.6"/>
<line x1="371.45" y1="222.40" x2="382.25" y2="222.40" stroke="#555" stroke-width="0.7"/>
<rect x="366.40" y="233.20" width="20.90" height="74.50" fill="none" stroke="#111" stroke-width="1.2"/>
<line x1="351.80" y1="307.70" x2="351.80" y2="310.50" stroke="#111" stroke-width="1.2"/>
<circle cx="327.00" cy="208.50" r="1.8" fill="#000"/>
<circle cx="327.00" cy="224.20" r="1.8" fill="#000"/>
<circle cx="327.00" cy="236.60" r="1.8" fill="#000"/>
<circle cx="327.00" cy="241.60" r="1.8" fill="#000"/>
<circle cx="327.00" cy="247.90" r="1.8" fill="#000"/>
<circle cx="327.00" cy="256.10" r="1.8" fill="#000"/>
<rect x="346.65" y="230.65" width="3.5" height="3.5" fill="#000"/>
<rect x="353.55" y="228.35" width="3.5" height="3.5" fill="#000"/>
<rect x="349.95" y="238.55" width="3.5" height="3.5" fill="#000"/>
<rect x="346.45" y="246.35" width="3.5" height="3.5" fill="#000"/>
<rect x="353.55" y="248.25" width="3.5" height="3.5" fill="#000"/>
<rect x="349.95" y="252.95" width="3.5" height="3.5" fill="#000"/>
<polygon points="369.80,224.46 367.95,227.86 371.65,227.86" fill="#000"/>
<polygon points="376.90,223.06 375.05,226.46 378.75,226.46" fill="#000"/>
<polygon points="383.90,225.36 382.05,228.76 385.75,228.76" fill="#000"/>
<polygon points="376.90,235.96 375.05,239.36 378.75,239.36" fill="#000"/>
<polygon points="376.90,246.76 375.05,250.16 378.75,250.16" fill="#000"/>
<text x="279.50" y="247.60" font-size="9.1" text-anchor="middle" font-family='"Liberation Serif", serif' font-weight="normal" transform="rotate(-90 279.50 247.60)" dominant-baseline="central" stroke="#000" stroke-width="0.2">Plasma adiponectin</text>
<text x="289.40" y="247.50" font-size="9.1" text-anchor="middle" font-family='"Liberation Serif", serif' font-weight="normal" transform="rotate(-90 289.40 247.50)" dominant-baseline="central" stroke="#000" stroke-width="0.2">(µg/mL)</text>
</svg></div>
</body></html>
